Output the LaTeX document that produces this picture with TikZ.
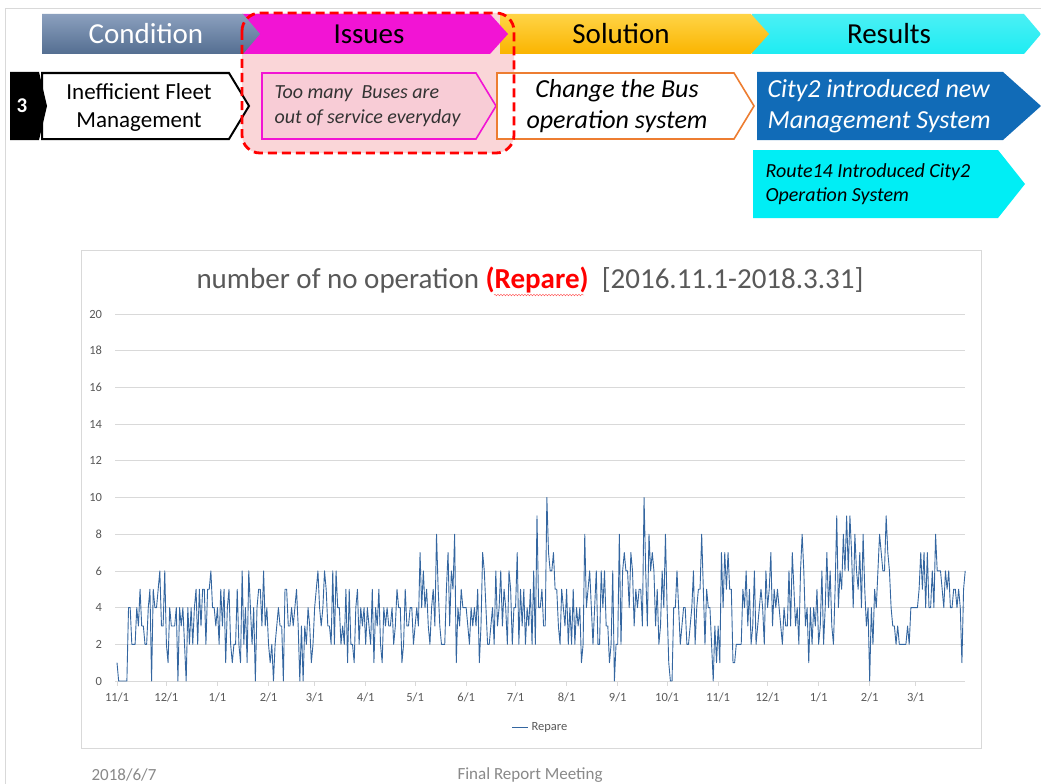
\documentclass[tikz,border=0pt]{standalone}
\usepackage{fontspec}
\setmainfont{Carlito}
\usetikzlibrary{decorations.pathmorphing}

\definecolor{condtop}{RGB}{139,160,190}
\definecolor{condbot}{RGB}{84,110,145}
\definecolor{issmag}{RGB}{242,20,212}
\definecolor{soltop}{RGB}{255,212,70}
\definecolor{solbot}{RGB}{250,180,0}
\definecolor{rescyan}{RGB}{30,236,242}
\definecolor{pinkzone}{RGB}{250,214,216}
\definecolor{pinkbox}{RGB}{248,204,214}
\definecolor{solorange}{RGB}{237,125,49}
\definecolor{cityblue}{RGB}{17,107,183}
\definecolor{routecyan}{RGB}{0,238,245}
\definecolor{gridgray}{RGB}{217,217,217}
\definecolor{axisgray}{RGB}{89,89,89}
\definecolor{footgray}{RGB}{137,137,137}
\definecolor{seriesblue}{RGB}{52,102,160}

\tikzset{
  hdrtext/.style={font=\fontsize{29}{32}\selectfont},
  boxtext/.style={font=\fontsize{23}{28}\selectfont, align=center},
  itbig/.style={font=\fontsize{26}{31}\selectfont\itshape},
  itsmall/.style={font=\fontsize{20}{24.5}\selectfont\itshape, align=left, anchor=west},
  gridline/.style={gridgray, line width=0.8pt},
  ticklbl/.style={font=\fontsize{12.5}{14}\selectfont, text=axisgray},
  dataline/.style={seriesblue, line width=0.9pt, line join=round},
  footer/.style={font=\fontsize{17}{19}\selectfont, text=footgray, anchor=west},
}

\begin{document}
\begin{tikzpicture}[x=1pt,y=-1pt]
  \fill[white] (0,0) rectangle (1041,784);
  \useasboundingbox (0,0) rectangle (1041,784);
  \draw[gridgray, line width=0.8pt] (5,784) -- (5,8) -- (1041,8);

  %%pink zone
  \fill[pinkzone, rounded corners=18] (242,13) rectangle (514,153);

  %%header bars
  \shade[top color=rescyan!80, bottom color=rescyan] (752,14) -- (1024,14) -- (1041,34) -- (1024,54) -- (752,54) -- cycle;
  \shade[top color=soltop, bottom color=solbot] (500,14) -- (751,14) -- (769,34) -- (751,54) -- (500,54) -- cycle;
  \fill[issmag] (242,14) -- (490,14) -- (508,34) -- (490,54) -- (242,54) -- cycle;
  \shade[top color=condtop, bottom color=condbot] (42,14) -- (243,14) -- (260,34) -- (243,54) -- (42,54) -- cycle;
    \node[hdrtext, text=white] (hcond) at (146,34) {Condition};
    \node[hdrtext] (hiss) at (369,34) {Issues};
    \node[hdrtext] (hsol) at (621,34) {Solution};
    \node[hdrtext] (hres) at (889,34) {Results};

  %%row 2
  \filldraw[fill=white, draw=black, line width=2pt, line join=miter] (42,73) -- (229,73) -- (249,106) -- (229,139) -- (42,139) -- cycle;
  \fill[black] (10,72) -- (39,72) -- (47,106) -- (39,140) -- (10,140) -- cycle;
    \node[font=\fontsize{21}{24}\selectfont\bfseries, text=white] (num) at (22,106) {3};
    \node[boxtext] (fleet) at (139,107) {Inefficient Fleet\\Management};
  \filldraw[fill=pinkbox, draw=issmag, line width=1.6pt] (262,73) -- (476,73) -- (496,106) -- (476,139) -- (262,139) -- cycle;
    \node[itsmall, text=black!80] (iss) at (271,106) {Too many\ \ Buses are\\out of service everyday};
  \filldraw[fill=white, draw=solorange, line width=1.6pt] (497,73) -- (734,73) -- (754,106) -- (734,139) -- (497,139) -- cycle;
    \node[itbig, align=center] (sol) at (617,106) {Change the Bus\\operation system};
  \fill[cityblue] (757,72) -- (1003,72) -- (1041,106) -- (1003,140) -- (757,140) -- cycle;
    \node[itbig, align=left, anchor=west, text=white] (city) at (764,106) {City2 introduced new\\Management System};
  \fill[routecyan] (753,150) -- (998,150) -- (1025,184) -- (998,218) -- (753,218) -- cycle;
    \node[itsmall] (route) at (762,184) {Route14 Introduced City2\\Operation System};

  %%dashed frame
  \draw[red, line width=2.8pt, dash pattern=on 9pt off 5pt, rounded corners=18] (242,13) rectangle (514,153);

  %%chart
  \draw[gridgray, line width=0.8pt] (81,250) rectangle (981,748);
  \node[font=\fontsize{29}{32}\selectfont, text=axisgray] (ttl) at (530,280) {number of no operation \textcolor{red}{\textbf{(Repare)}}\ \ [2016.11.1-2018.3.31]};
  \draw[red!70, line width=0.4pt, decorate, decoration={snake, amplitude=0.8pt, segment length=3pt}] (494,295) -- (584,295);

  \begin{scope}[shift={(117,681)}, x=1.647pt, y=18.35pt]
    \foreach \g in {0,2,...,20}{
      \draw[gridline] (-1.2,\g) -- (515,\g);
      \node[ticklbl, anchor=east] (y\g) at (-7,\g) {\g};
    }
    \foreach \d/\m in {0/11,30/12,61/1,92/2,120/3,151/4,181/5,212/6,242/7,273/8,304/9,334/10,365/11,395/12,426/1,457/2,485/3}{
      \draw[gridline] (\d,0) -- (\d,-0.25);
      \node[ticklbl] (x\d) at (\d,-0.9) {\m/1};
    }
    %%Repare series, one value a day
    \draw[dataline] (0,1) \foreach \v [count=\i] in {
      0,0,0,0,0,0,4,4,2,2,2,4,3,5,3,3,2,2,4,5,0,5,4,4,5,6,3,3,6,
      2,1,4,3,3,3,4,0,4,3,4,2,0,4,2,4,2,4,5,2,5,3,5,5,2,5,5,6,4,4,3,
      4,2,5,3,5,1,4,5,2,1,2,2,5,2,1,6,2,4,1,6,4,2,4,0,4,5,5,3,6,3,4,
      2,1,2,0,2,3,4,3,3,0,5,5,3,3,4,3,4,5,3,0,3,0,3,2,4,3,1,2,
      4,5,6,4,3,4,6,5,3,3,2,6,2,6,4,4,2,3,2,5,1,5,2,2,1,4,5,2,4,3,4,
      2,4,3,2,5,1,4,3,5,2,1,4,3,4,3,3,4,2,3,5,4,4,1,2,5,3,3,4,4,2,
      3,4,3,7,4,6,4,5,3,2,4,5,3,8,5,3,2,2,2,5,7,3,6,5,8,1,4,3,5,4,4,
      4,3,2,4,3,4,3,5,1,3,7,6,4,2,2,3,4,2,6,3,4,6,3,5,4,2,6,5,2,4,
      4,7,2,5,3,5,2,4,3,5,2,6,2,9,4,4,5,3,3,10,7,6,6,7,5,5,3,2,5,4,3,
      5,2,4,2,5,2,4,3,4,1,2,8,4,5,6,4,2,4,6,2,2,6,4,6,3,3,1,2,6,0,2,
      2,8,2,6,7,6,6,4,7,6,3,5,4,5,5,3,10,6,3,8,6,7,6,3,5,2,3,6,4,8,
      4,1,0,0,4,4,6,4,2,3,4,4,2,2,3,4,6,2,4,5,5,8,5,2,5,4,4,2,0,3,1,
      3,1,7,4,7,5,7,5,5,1,1,2,2,2,2,5,4,6,3,5,2,3,6,2,3,4,5,4,2,6,
      4,5,7,3,5,4,5,4,3,2,4,3,3,6,3,7,5,3,4,2,6,8,6,3,4,1,4,2,4,3,5,
      2,3,6,2,4,7,4,6,3,2,5,9,4,6,5,8,6,9,6,9,7,4,8,6,5,7,4,8,5,3,4,
      0,4,2,5,4,6,8,7,6,6,9,7,6,4,3,3,2,3,2,2,2,2,2,3,2,4,4,4,
      4,4,5,7,5,7,4,7,4,4,6,4,8,6,6,6,5,4,6,5,6,4,4,5,5,4,5,4,1,5,6}
      { -- (\i,\v) };
  \end{scope}

  %%legend
  \coordinate (legA) at (512,727);
  \node[ticklbl, anchor=west] (leg) at (528,727) {Repare};
  \draw[dataline] (legA) -- (leg.west);

  %%footer
  \node[footer] (date) at (88,775) {2018/6/7};
  \node[footer] (meet) at (454,775) {Final Report Meeting};
\end{tikzpicture}
\end{document}
